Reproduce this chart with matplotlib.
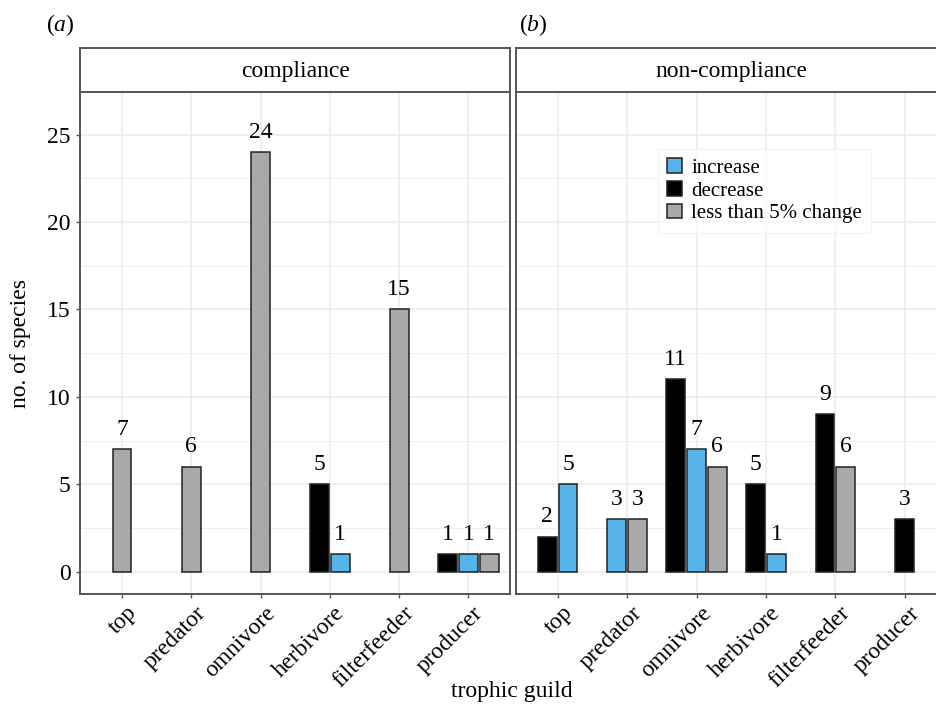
import numpy as np
import matplotlib
matplotlib.use("Agg")
import matplotlib.pyplot as plt
import matplotlib.transforms as mtransforms
from matplotlib.patches import Patch

plt.rcParams['font.family'] = ['Liberation Serif', 'DejaVu Serif']
plt.rcParams['mathtext.fontset'] = 'custom'
plt.rcParams['mathtext.it'] = 'Liberation Serif:italic'
plt.rcParams['mathtext.rm'] = 'Liberation Serif'

guilds = ['top', 'predator', 'omnivore', 'herbivore', 'filterfeeder', 'producer']
panels = ['compliance', 'non-compliance']
panel_tags = [r'($\it{a}$)', r'($\it{b}$)']

# counts per guild, 0 = no bar
comp_decrease = [0, 0, 0, 5, 0, 1]
comp_increase = [0, 0, 0, 1, 0, 1]
comp_less = [7, 6, 24, 0, 15, 1]
noncomp_decrease = [2, 0, 11, 5, 9, 3]
noncomp_increase = [5, 3, 7, 1, 0, 0]
noncomp_less = [0, 3, 6, 0, 6, 0]

groups = ['decrease', 'increase', 'less than 5% change']
colours = {'increase': '#56B4E9', 'decrease': '#000000', 'less than 5% change': '#A9A9A9'}
legend_order = ['increase', 'decrease', 'less than 5% change']

data = [
    [comp_decrease, comp_increase, comp_less],
    [noncomp_decrease, noncomp_increase, noncomp_less],
]

W, H = 937, 708
fig = plt.figure(figsize=(W / 100, H / 100), dpi=100)

def fx(px):
    return px / W

def fy(py):
    return 1 - py / H

edge = '#555555'
grid_c = '#EBEBEB'
fs = 17

panel_x = [(80.5, 510), (516, 946.5)]
top, bot, strip_top = 92, 594, 48

for p in range(2):
    x0, x1 = panel_x[p]
    ax = fig.add_axes([fx(x0), fy(bot), fx(x1 - x0), (bot - top) / H])
    ax.set_xlim(0.4, 6.6)
    ax.set_ylim(-1.28, 27.44)
    ax.set_yticks([0, 5, 10, 15, 20, 25])
    ax.set_yticks([2.5, 7.5, 12.5, 17.5, 22.5], minor=True)
    ax.set_xticks(range(1, 7))
    ax.grid(True, which='major', color=grid_c, lw=1.1, zorder=0)
    ax.grid(True, which='minor', axis='y', color=grid_c, lw=0.6, zorder=0)
    ax.set_axisbelow(True)
    for s in ax.spines.values():
        s.set_color(edge)
        s.set_linewidth(1.4)
    ax.tick_params(which='major', length=3, width=1, color=edge, labelsize=fs, pad=3)
    ax.tick_params(which='minor', length=0)
    ax.set_xticklabels(guilds, rotation=45, ha='right', va='top', rotation_mode='anchor')
    # nudge the rotated labels a little to the right, like ggplot's hjust=1
    shift = mtransforms.ScaledTranslation(4 / 100, 0, fig.dpi_scale_trans)
    for lab in ax.get_xticklabels():
        lab.set_transform(lab.get_transform() + shift)
    if p == 0:
        ax.tick_params(axis='y', pad=4)
    else:
        ax.tick_params(axis='y', length=0, labelleft=False)

    vals = data[p]
    for i in range(6):
        present = [g for g in range(3) if vals[g][i] > 0]
        n = len(present)
        for k, g in enumerate(present):
            xc = (i + 1) + (k - (n - 1) / 2) * 0.3
            v = vals[g][i]
            ax.bar(xc, v, width=0.27, color=colours[groups[g]], edgecolor='#222222',
                   linewidth=1.1, zorder=3)
            ax.annotate(str(v), (xc, v), xytext=(0, 10.5), textcoords='offset points',
                        ha='center', va='baseline', fontsize=fs, zorder=4)

    # strip
    sax = fig.add_axes([fx(x0), fy(top), fx(x1 - x0), (top - strip_top) / H])
    sax.set_xticks([])
    sax.set_yticks([])
    for s in sax.spines.values():
        s.set_color(edge)
        s.set_linewidth(1.4)
    sax.text(0.5, 0.47, panels[p], ha='center', va='center', fontsize=fs, transform=sax.transAxes)

    fig.text(fx(x0 - 35 if p == 0 else x0 + 3), fy(25), panel_tags[p], fontsize=fs,
             ha='left', va='center')

fig.text(fx(21), fy(343), 'no. of species', rotation=90, ha='center', va='center', fontsize=fs)
fig.text(fx(512), fy(692), 'trophic guild', ha='center', va='center', fontsize=fs)

handles = [Patch(facecolor=colours[g], edgecolor='#222222', linewidth=1.1) for g in legend_order]
leg = fig.legend(handles, legend_order, loc='upper left',
                 bbox_to_anchor=(fx(658), fy(149)), borderaxespad=0, fontsize=15,
                 frameon=True, fancybox=False, handlelength=0.7, handleheight=0.7,
                 handletextpad=0.45, labelspacing=0.15, borderpad=0.45)
leg.get_frame().set_edgecolor('#F0F0F0')
leg.get_frame().set_linewidth(0.8)

fig.savefig('out.png', dpi=100)
